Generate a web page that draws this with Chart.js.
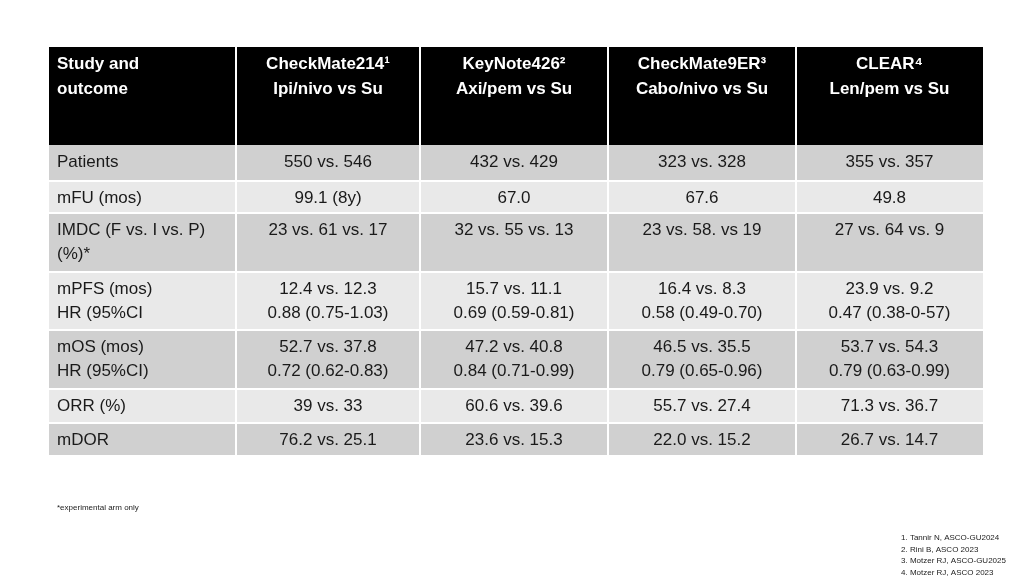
<!DOCTYPE html>
<html><head><meta charset="utf-8">
<script src="https://cdn.jsdelivr.net/npm/chart.js@4"></script>
<style>html,body{margin:0;padding:0;background:#fff}#wrap{width:1035px;height:583px}</style>
</head><body><div id="wrap"><canvas id="c"></canvas></div>
<script>
const headers = [["Study and","outcome"],["CheckMate214¹","Ipi/nivo vs Su"],["KeyNote426²","Axi/pem vs Su"],["CheckMate9ER³","Cabo/nivo vs Su"],["CLEAR⁴","Len/pem vs Su"]];
const outcomes = [["Patients"],["mFU (mos)"],["IMDC (F vs. I vs. P)","(%)*"],["mPFS (mos)","HR (95%CI"],["mOS (mos)","HR (95%CI)"],["ORR (%)"],["mDOR"]];
const checkmate214 = [["550 vs. 546"],["99.1 (8y)"],["23 vs. 61 vs. 17"],["12.4 vs. 12.3","0.88 (0.75-1.03)"],["52.7 vs. 37.8","0.72 (0.62-0.83)"],["39 vs. 33"],["76.2 vs. 25.1"]];
const keynote426 = [["432 vs. 429"],["67.0"],["32 vs. 55 vs. 13"],["15.7 vs. 11.1","0.69 (0.59-0.81)"],["47.2 vs. 40.8","0.84 (0.71-0.99)"],["60.6 vs. 39.6"],["23.6 vs. 15.3"]];
const checkmate9er = [["323 vs. 328"],["67.6"],["23 vs. 58. vs 19"],["16.4 vs. 8.3","0.58 (0.49-0.70)"],["46.5 vs. 35.5","0.79 (0.65-0.96)"],["55.7 vs. 27.4"],["22.0 vs. 15.2"]];
const clear = [["355 vs. 357"],["49.8"],["27 vs. 64 vs. 9"],["23.9 vs. 9.2","0.47 (0.38-0-57)"],["53.7 vs. 54.3","0.79 (0.63-0.99)"],["71.3 vs. 36.7"],["26.7 vs. 14.7"]];
const footnote = "*experimental arm only";
const refs = ["1. Tannir N, ASCO-GU2024","2. Rini B, ASCO 2023","3. Motzer RJ, ASCO-GU2025","4. Motzer RJ, ASCO 2023"];

const colX = [49,236,420,608,796,983];
const rowY = [47,145,181,213,272,330,389,423,455];
const cols = [outcomes, checkmate214, keynote426, checkmate9er, clear];

const tablePlugin = {
  id:'table',
  afterDraw(chart){
    const ctx = chart.ctx, sx = chart.scales.x, sy = chart.scales.y;
    const X = v=>sx.getPixelForValue(v), Y = v=>sy.getPixelForValue(v);
    ctx.save();
    // header
    ctx.fillStyle='#000';
    ctx.fillRect(X(colX[0]),Y(rowY[0]),X(colX[5])-X(colX[0]),Y(rowY[1])-Y(rowY[0]));
    ctx.fillStyle='#fff'; ctx.font='bold 17px "Liberation Sans", Arial, sans-serif'; ctx.textBaseline='middle';
    headers.forEach((h,c)=>{
      h.forEach((t,i)=>{
        const y = Y(rowY[0]+17+i*25);
        if(c===0){ctx.textAlign='left';ctx.fillText(t,X(colX[0]+8),y);}
        else {ctx.textAlign='center';ctx.fillText(t,(X(colX[c])+X(colX[c+1]))/2,y);}
      });
    });
    // body
    for(let r=0;r<outcomes.length;r++){
      const y0=Y(rowY[r+1]), y1=Y(rowY[r+2]);
      ctx.fillStyle = r%2===0 ? '#d0d0d0' : '#e9e9e9';
      ctx.fillRect(X(colX[0]),y0,X(colX[5])-X(colX[0]),y1-y0);
      ctx.font='17px "Liberation Sans", Arial, sans-serif'; ctx.fillStyle='#1a1a1a';
      cols.forEach((col,c)=>{
        const lines = col[r];
        lines.forEach((t,i)=>{
          const y = y0 + 17 + i*24;
          if(c===0){ctx.textAlign='left';ctx.fillText(t,X(colX[0]+8),y);}
          else {ctx.textAlign='center';ctx.fillText(t,(X(colX[c])+X(colX[c+1]))/2,y);}
        });
      });
    }
    // white grid lines
    ctx.strokeStyle='#fff'; ctx.lineWidth=2;
    for(let c=1;c<5;c++){ctx.beginPath();ctx.moveTo(X(colX[c]),Y(rowY[0]));ctx.lineTo(X(colX[c]),Y(rowY[8]));ctx.stroke();}
    for(let r=2;r<8;r++){ctx.beginPath();ctx.moveTo(X(colX[0]),Y(rowY[r]));ctx.lineTo(X(colX[5]),Y(rowY[r]));ctx.stroke();}
    // footnotes
    ctx.fillStyle='#222'; ctx.font='8px "Liberation Sans", Arial, sans-serif'; ctx.textAlign='left';
    ctx.fillText(footnote,X(57),Y(508));
    refs.forEach((t,i)=>ctx.fillText(t,X(901),Y(538+i*11.5)));
    ctx.restore();
  }
};

new Chart(document.getElementById('c'),{
  type:'scatter',
  data:{datasets:[{data:[]}]},
  options:{
    responsive:true, maintainAspectRatio:false, animation:false,
    layout:{padding:0},
    plugins:{legend:{display:false},tooltip:{enabled:false}},
    scales:{
      x:{type:'linear',min:0,max:1035,display:false},
      y:{type:'linear',min:0,max:583,reverse:true,display:false}
    }
  },
  plugins:[tablePlugin]
});
</script></body></html>
